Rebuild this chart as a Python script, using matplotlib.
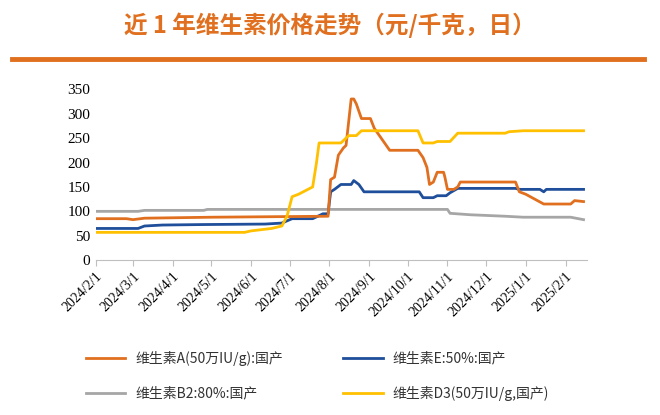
import matplotlib
matplotlib.use("Agg")
import matplotlib.pyplot as plt
import pandas as pd
from matplotlib.lines import Line2D

CJK = ["Noto Sans CJK JP", "Noto Sans CJK SC", "DejaVu Sans"]

title = "近 1 年维生素价格走势（元/千克，日）"
names = ["维生素A(50万IU/g):国产", "维生素E:50%:国产", "维生素B2:80%:国产", "维生素D3(50万IU/g,国产)"]
colors = ["#E0701F", "#1F4E9A", "#A6A6A6", "#FFC000"]

a_dates = ["2024-02-01","2024-02-25","2024-03-01","2024-03-10","2024-04-05","2024-05-01","2024-07-31","2024-08-02",
           "2024-08-05","2024-08-08","2024-08-12","2024-08-14","2024-08-18","2024-08-20","2024-08-22","2024-08-26",
           "2024-09-02","2024-09-05","2024-09-09","2024-09-13","2024-09-17","2024-10-09","2024-10-13","2024-10-16",
           "2024-10-18","2024-10-21","2024-10-24","2024-10-29","2024-10-30","2024-11-01","2024-11-06","2024-11-09",
           "2024-11-11","2024-12-24","2024-12-27","2025-01-01","2025-01-08","2025-01-15","2025-02-05","2025-02-08","2025-02-15"]
a_vals = [85,85,83,86,87,88,90,165,170,215,230,235,330,330,320,290,290,270,255,240,225,225,210,190,155,160,180,180,170,145,145,150,
          160,160,140,135,125,115,115,122,120]

e_dates = ["2024-02-01","2024-03-05","2024-03-10","2024-03-24","2024-04-25","2024-06-12","2024-06-25","2024-07-03","2024-07-19",
           "2024-07-27","2024-07-31","2024-08-02","2024-08-05","2024-08-10","2024-08-18","2024-08-20","2024-08-24","2024-08-28",
           "2024-10-10","2024-10-13","2024-10-21","2024-10-24","2024-10-31","2024-11-03","2024-11-09","2024-12-24","2024-12-27",
           "2025-01-12","2025-01-15","2025-01-17","2025-02-15"]
e_vals = [65,65,70,72,73,74,76,85,85,95,95,140,145,155,155,163,155,140,140,128,128,132,132,138,147,147,145,145,140,145,145]

b_dates = ["2024-02-01","2024-03-05","2024-03-10","2024-04-25","2024-04-28","2024-11-01","2024-11-03","2024-11-19","2024-12-16",
           "2024-12-30","2025-02-05","2025-02-15"]
b_vals = [100,100,102,102,104,104,96,93,90,88,88,83]

d_dates = ["2024-02-01","2024-05-27","2024-06-01","2024-06-17","2024-06-25","2024-06-29","2024-07-03","2024-07-08","2024-07-19",
           "2024-07-22","2024-07-24","2024-08-10","2024-08-12","2024-08-16","2024-08-22","2024-08-26","2024-10-09","2024-10-13",
           "2024-10-21","2024-10-24","2024-11-03","2024-11-09","2024-12-16","2024-12-19","2024-12-30","2025-02-15"]
d_vals = [57,57,60,65,70,90,130,135,150,200,240,240,245,255,255,265,265,240,240,243,243,260,260,263,265,265]

series = [(a_dates,a_vals),(e_dates,e_vals),(b_dates,b_vals),(d_dates,d_vals)]
tick_labels = ["2024/2/1","2024/3/1","2024/4/1","2024/5/1","2024/6/1","2024/7/1","2024/8/1","2024/9/1",
               "2024/10/1","2024/11/1","2024/12/1","2025/1/1","2025/2/1"]
yticks = [0,50,100,150,200,250,300,350]

fig = plt.figure(figsize=(6.6,4.15), dpi=100)
fig.patch.set_facecolor("white")
fig.text(0.5, 0.94, title, ha="center", va="center", fontsize=17, color="#E0701F",
         fontfamily=CJK, fontweight="bold")
fig.add_artist(Line2D([0.018,0.975],[0.858,0.858], color="#E0701F", lw=3.5, transform=fig.transFigure))

ax = fig.add_axes([0.145, 0.373, 0.745, 0.412])
for i in [2,1,0,3]:
    d, v = series[i]
    ax.plot(pd.to_datetime(d), v, color=colors[i], lw=2.0)
ax.set_ylim(0,350)
ax.set_yticks(yticks)
ax.set_xlim(pd.Timestamp("2024-02-01"), pd.Timestamp("2025-02-18"))
ticks = pd.to_datetime([t.replace("/","-") for t in tick_labels])
ax.set_xticks(ticks)
ax.set_xticklabels(tick_labels, rotation=45, ha="right", rotation_mode="anchor")
for s in ["top","right","left"]:
    ax.spines[s].set_visible(False)
ax.spines["bottom"].set_color("#BFBFBF")
ax.tick_params(axis="y", length=0, labelsize=11, pad=4)
ax.tick_params(axis="x", length=4, color="#BFBFBF", labelsize=10, pad=3)
for lab in ax.get_xticklabels()+ax.get_yticklabels():
    lab.set_fontfamily("Liberation Serif")

pos = [(0.13,0.137),(0.52,0.137),(0.13,0.052),(0.52,0.052)]
for i,(x,y) in enumerate(pos):
    fig.add_artist(Line2D([x,x+0.06],[y,y], color=colors[i], lw=2.0, transform=fig.transFigure))
    fig.text(x+0.075, y, names[i], va="center", fontsize=10, fontfamily=CJK, color="#333333")

fig.savefig("out.png", dpi=100)
